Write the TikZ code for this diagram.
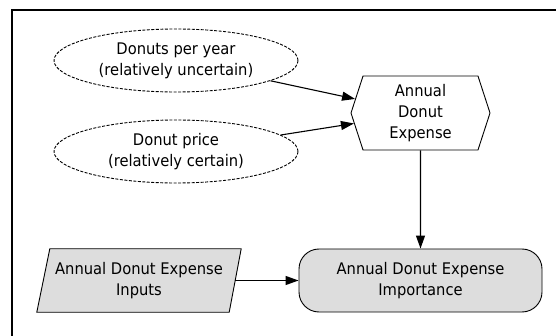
\documentclass[tikz,border=0pt]{standalone}
\usepackage{fontspec}
\setmainfont{DejaVu Sans}[FakeStretch=0.92]
\usetikzlibrary{shapes.geometric,shapes.symbols,arrows.meta,calc,backgrounds}
\definecolor{boxgray}{HTML}{DDDDDD}
\tikzset{
  label text/.style={font=\fontsize{16}{21}\selectfont, align=center, inner sep=0pt},
  chance/.style={label text, ellipse, draw, dash pattern=on 3pt off 1.5pt,
    line width=0.9pt, minimum width=244pt, minimum height=63pt},
  calcnode/.style={label text, signal, draw, line width=0.9pt,
    signal to=east and west, signal pointer angle=144,
    minimum width=139pt, minimum height=74pt},
  inputnode/.style={label text, rectangle, minimum width=192pt, minimum height=63pt},
  slanted/.style={draw, fill=boxgray, line width=0.9pt, line join=miter},
  valuenode/.style={label text, rectangle, rounded corners=20pt, draw, fill=boxgray,
    line width=0.9pt, minimum width=243pt, minimum height=63pt},
  link/.style={line width=1.1pt, -{Triangle[length=13pt,width=9pt]}},
}
\begin{document}
\begin{tikzpicture}[x=1pt,y=-1pt]
  \useasboundingbox (0,0) rectangle (556,336);
  \clip (0,0) rectangle (556,336);
  % outer frame, running off the right and bottom edges
  \draw[line width=2pt] (11.5,400) |- (600,10);

  \node[chance] (e1) at (176,60.5) {Donuts per year\\(relatively uncertain)};
  \node[chance] (e2) at (176,151.5) {Donut price\\(relatively certain)};
  \node[calcnode] (h) at (420.5,113) {Annual\\Donut\\Expense};
  \node[inputnode] (inp) at (139,280.5) {Annual Donut Expense\\Inputs};
  \node[valuenode] (imp) at (420.5,280.5) {Annual Donut Expense\\Importance};

  % slanted input box behind its label
  \begin{scope}[on background layer]
    \draw[slanted] ($(inp.north west)+(7,0)$) -- ($(inp.north east)+(6,0)$)
      -- ($(inp.south east)+(-6,0)$) -- ($(inp.south west)+(-6,0)$) -- cycle;
  \end{scope}

  \draw[link] (e1) -- (h);
  \draw[link] (e2) -- (h);
  \draw[link] (h) -- (imp);
  \draw[link] (inp) -- (imp);
\end{tikzpicture}
\end{document}
